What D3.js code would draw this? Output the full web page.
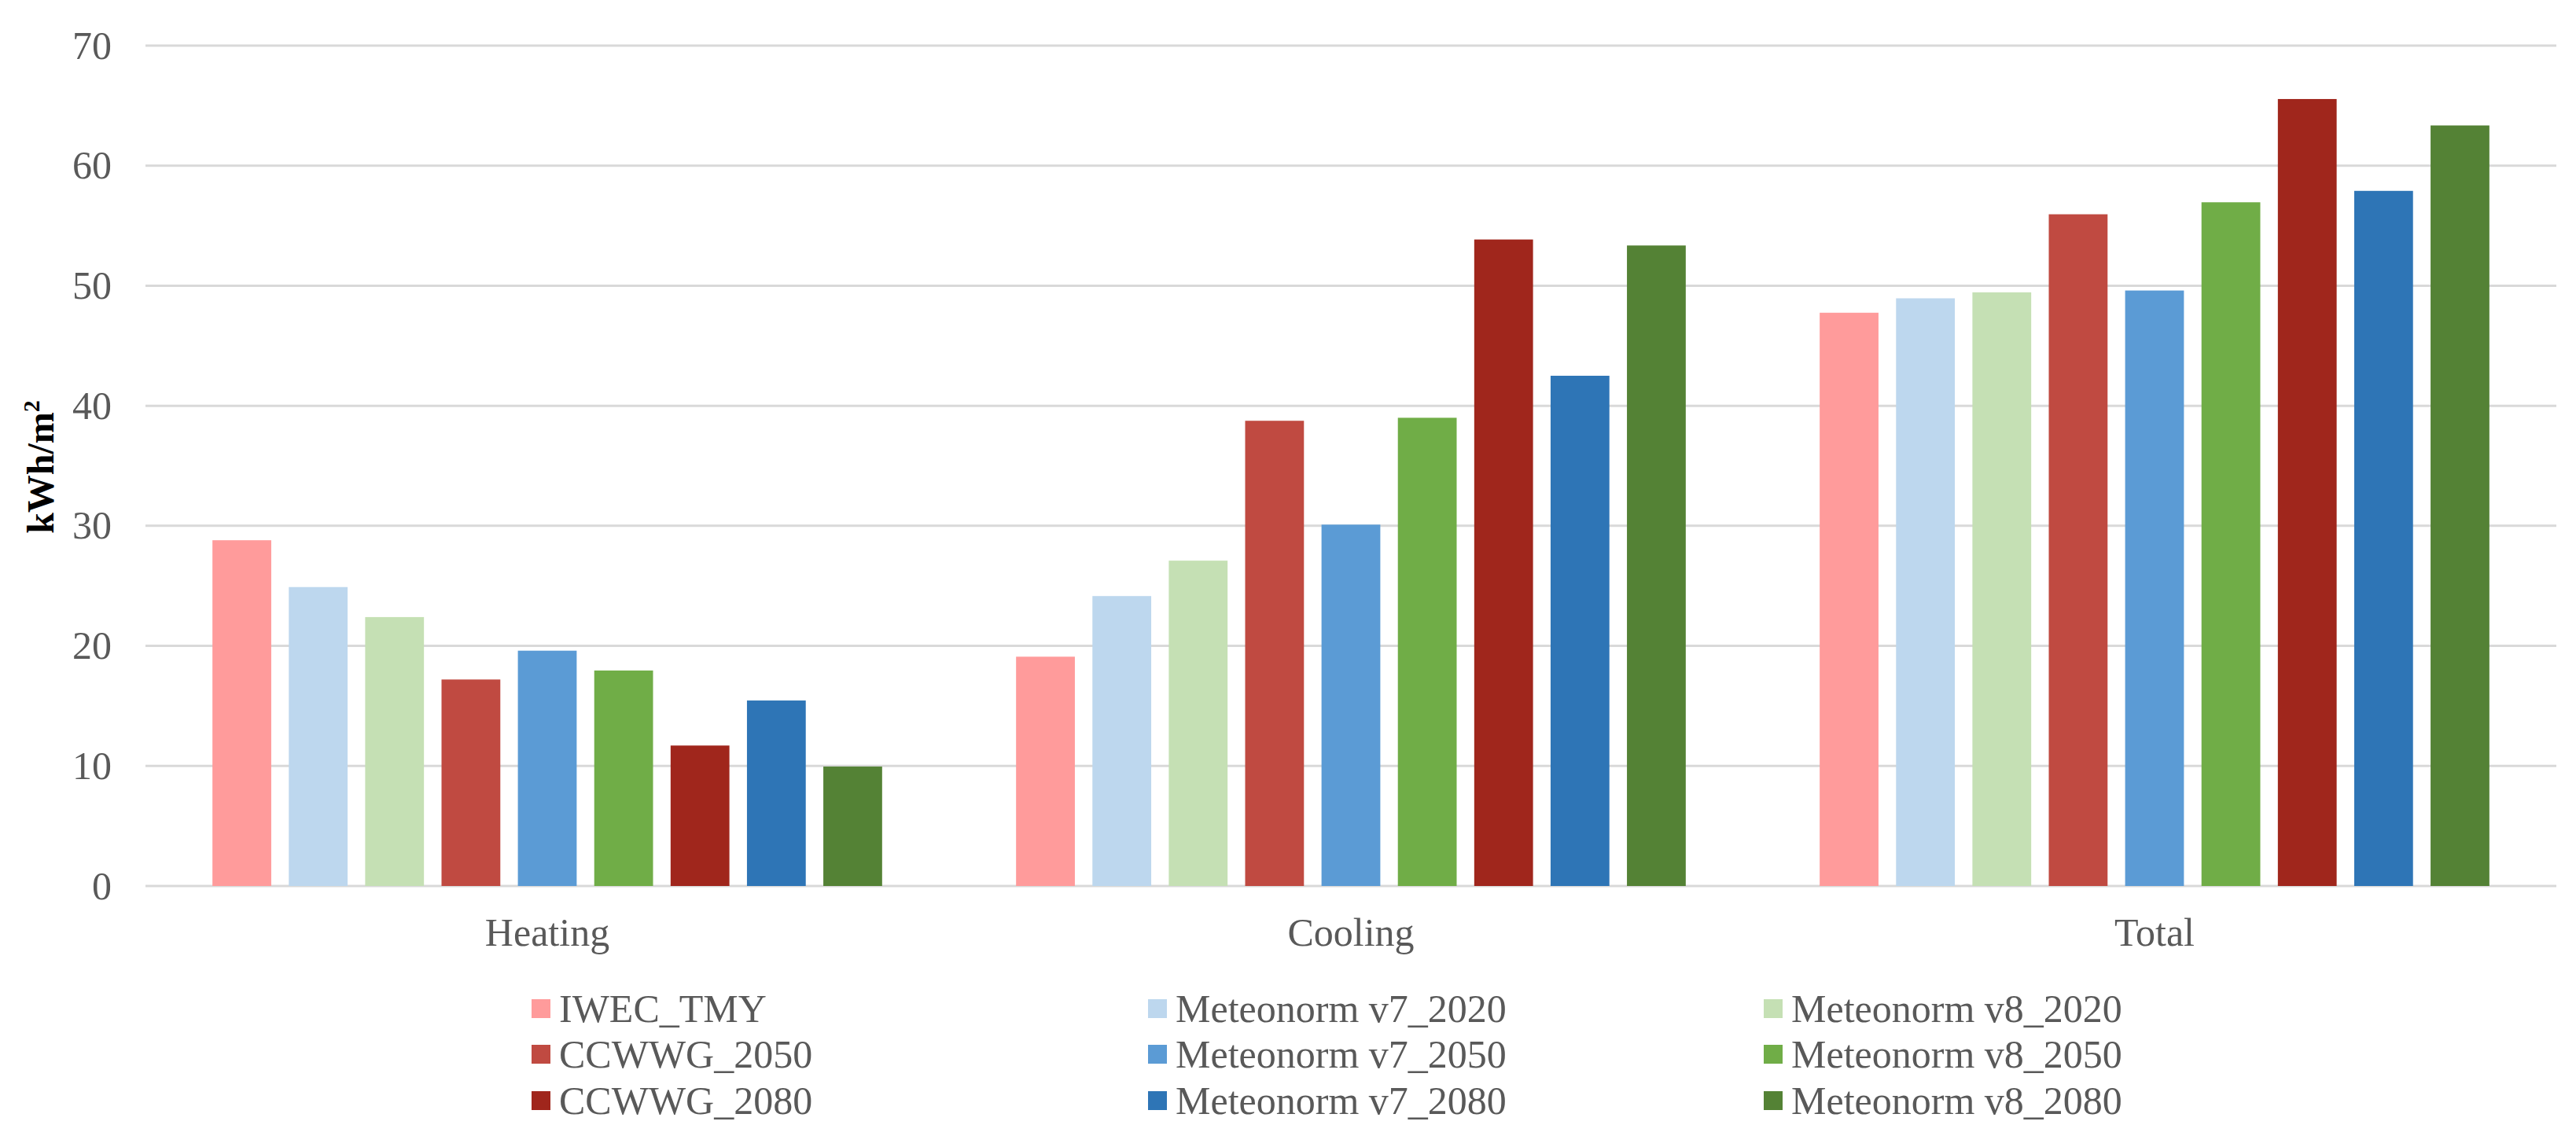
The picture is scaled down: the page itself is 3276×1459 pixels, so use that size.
<!DOCTYPE html>
<html>
<head>
<meta charset="utf-8">
<script src="https://cdn.jsdelivr.net/npm/d3@7"></script>
<style>
  body { margin: 0; background: #fff; }
  svg { display: block; }
  text { font-family: "Liberation Serif", "Times New Roman", serif; }
</style>
</head>
<body>
<svg id="chart" width="3276" height="1459"></svg>
<script>
var categories = ["Heating", "Cooling", "Total"];
var seriesNames = ["IWEC_TMY", "Meteonorm v7_2020", "Meteonorm v8_2020",
                   "CCWWG_2050", "Meteonorm v7_2050", "Meteonorm v8_2050",
                   "CCWWG_2080", "Meteonorm v7_2080", "Meteonorm v8_2080"];
var seriesColors = ["#ff9b9b", "#bdd7ee", "#c5e0b4",
                    "#c04a41", "#5b9bd5", "#70ad47",
                    "#a0261c", "#2e75b6", "#548235"];
var heating = [28.8, 24.9, 22.4, 17.2, 19.6, 17.95, 11.7, 15.45, 9.95];
var cooling = [19.1, 24.15, 27.1, 38.75, 30.1, 39.0, 53.85, 42.5, 53.35];
var total   = [47.75, 48.95, 49.45, 55.95, 49.6, 56.95, 65.55, 57.9, 63.35];
var yTicks = [0, 10, 20, 30, 40, 50, 60, 70];

var values = [heating, cooling, total];
var rows = categories.map(function(c, i){
	return { cat: c, vals: values[i].map(function(v, j){ return { name: seriesNames[j], value: v }; }) };
});

var svg = d3.select("#chart");

var plot = { left: 185, right: 3251, top: 58, bottom: 1127 };

var x0 = d3.scaleBand().domain(categories).range([plot.left, plot.right]).padding(0);
var x1 = d3.scaleBand().domain(seriesNames).range([0, x0.bandwidth()])
	.paddingInner(0.23).paddingOuter(0.877);
var y = d3.scaleLinear().domain([0, 70]).range([plot.bottom, plot.top]);
var color = d3.scaleOrdinal().domain(seriesNames).range(seriesColors);

// gridlines
svg.append("g")
	.selectAll("line")
	.data(yTicks)
	.enter()
	.append("line")
	.attr("x1", plot.left).attr("x2", plot.right)
	.attr("y1", function(d){ return y(d); })
	.attr("y2", function(d){ return y(d); })
	.attr("stroke", "#d9d9d9")
	.attr("stroke-width", 3);

// y axis labels
var yAxis = svg.append("g")
	.attr("transform", "translate(" + (plot.left - 43) + ",0)")
	.call(d3.axisLeft(y).tickValues(yTicks).tickSize(0).tickPadding(0));
yAxis.select(".domain").remove();
yAxis.selectAll("text")
	.attr("font-size", 50)
	.attr("fill", "#595959")
	.attr("font-family", "Liberation Serif");

// bars
svg.append("g")
	.selectAll("g")
	.data(rows)
	.enter()
	.append("g")
	.attr("transform", function(d){ return "translate(" + x0(d.cat) + ",0)"; })
	.selectAll("rect")
	.data(function(d){ return d.vals; })
	.enter()
	.append("rect")
	.attr("x", function(d){ return x1(d.name); })
	.attr("width", x1.bandwidth())
	.attr("y", function(d){ return y(d.value); })
	.attr("height", function(d){ return y(0) - y(d.value); })
	.attr("fill", function(d){ return color(d.name); });

// x axis labels
var xAxis = svg.append("g")
	.attr("transform", "translate(0," + (plot.bottom + 40) + ")")
	.call(d3.axisBottom(x0).tickSize(0).tickPadding(0));
xAxis.select(".domain").remove();
xAxis.selectAll("text")
	.attr("font-size", 50)
	.attr("fill", "#595959")
	.attr("font-family", "Liberation Serif");

// y title
var yTitle = svg.append("text")
	.attr("transform", "translate(68,594) rotate(-90)")
	.attr("text-anchor", "middle")
	.attr("font-size", 48)
	.attr("font-weight", "bold")
	.attr("fill", "#000");
yTitle.append("tspan").text("kWh/m");
yTitle.append("tspan").attr("font-size", 30).attr("dy", -18).text("2");

// legend
var legendCols = [676, 1460, 2243];
var legendRows = [1283, 1341, 1400];
var legend = svg.append("g")
	.selectAll("g")
	.data(seriesNames)
	.enter()
	.append("g")
	.attr("transform", function(d, i){
		return "translate(" + legendCols[i % 3] + "," + legendRows[Math.floor(i / 3)] + ")";
	});
legend.append("rect")
	.attr("x", 0).attr("y", -12)
	.attr("width", 24).attr("height", 24)
	.attr("fill", function(d){ return color(d); });
legend.append("text")
	.attr("x", 35).attr("y", 17)
	.attr("font-size", 50)
	.attr("fill", "#595959")
	.text(function(d){ return d; });
</script>
</body>
</html>
